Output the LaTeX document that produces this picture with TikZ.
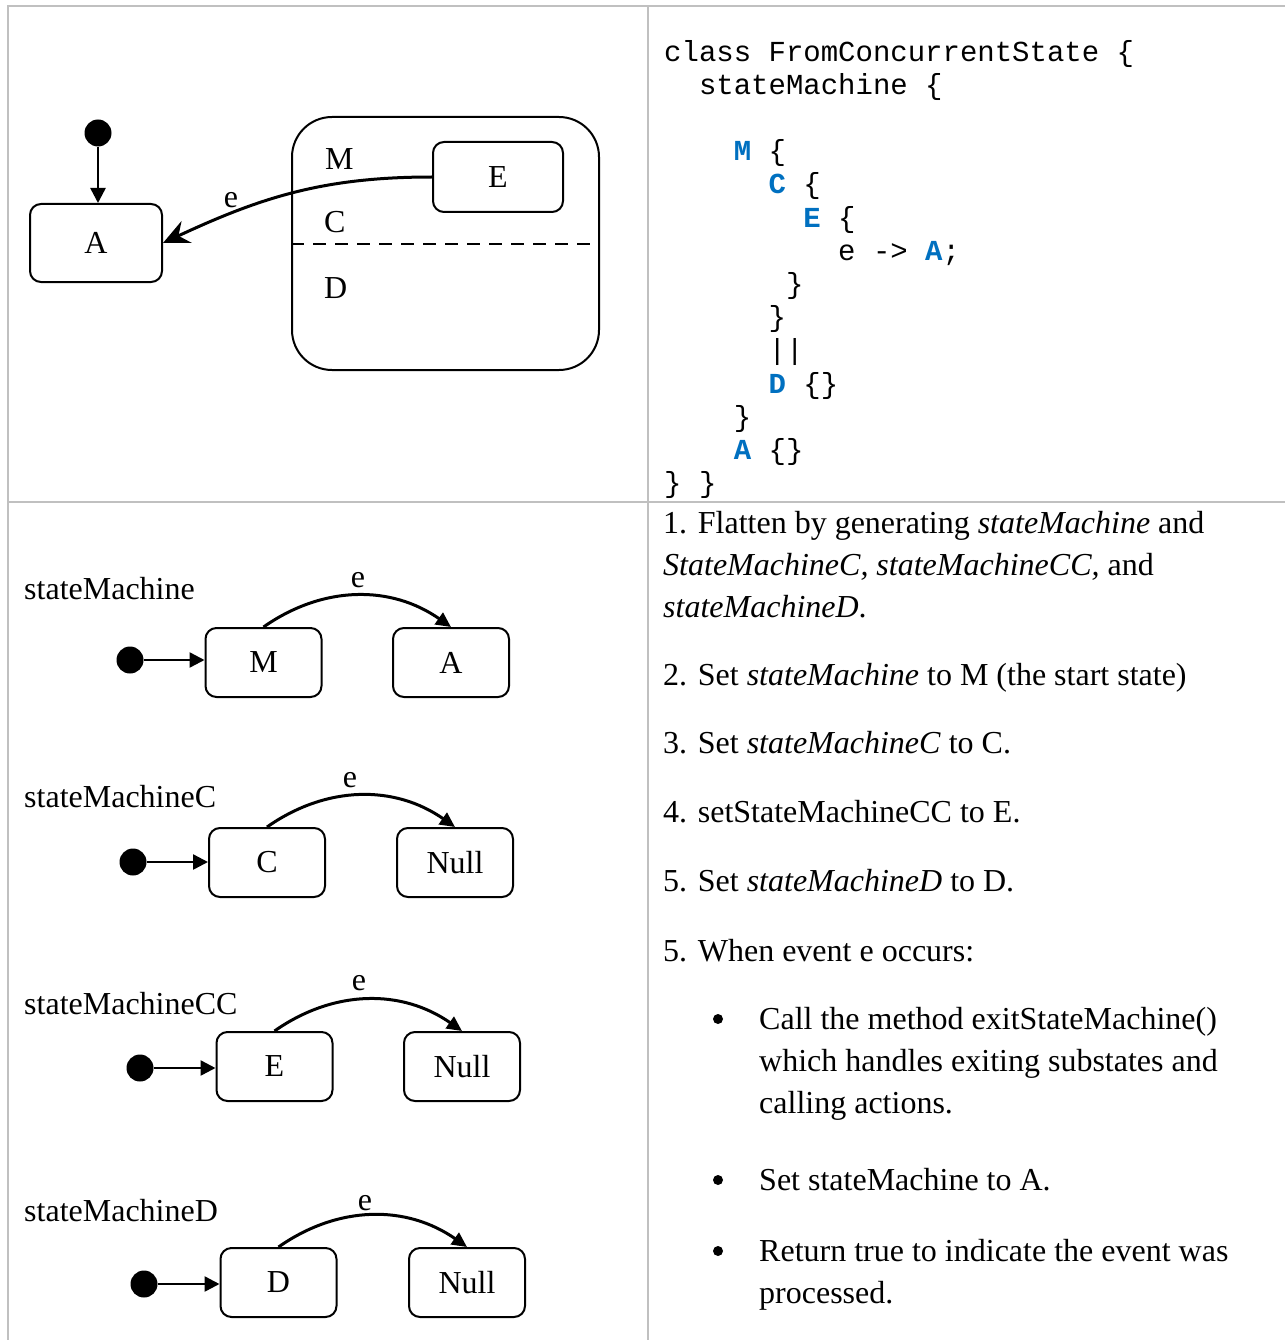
\documentclass[tikz,border=0pt]{standalone}
\usepackage{fontspec}
\setmainfont{Liberation Serif}
\setmonofont{Liberation Mono}
\usetikzlibrary{arrows.meta,positioning}

\definecolor{kwblue}{RGB}{0,112,192}
\definecolor{gridgray}{RGB}{192,192,192}
\newcommand{\kw}[1]{\textcolor{kwblue}{\textbf{#1}}}
\newcommand{\ind}[1]{\hspace*{#1}}

\begin{document}
\begin{tikzpicture}[
    x=1pt, y=-1pt,
    sbox/.style={draw, line width=2pt, rounded corners=11pt, minimum width=116pt, minimum height=69pt, font=\fontsize{32}{38}\selectfont},
    init/.style={circle, fill=black, minimum size=27pt, inner sep=0pt},
    bul/.style={circle, fill=black, minimum size=10pt, inner sep=0pt},
    arr/.style={-{Triangle[length=15pt,width=15pt]}, line width=2.5pt},
    tarr/.style={-{Triangle[length=15pt,width=14pt]}, line width=3pt},
    earr/.style={-{Stealth[length=26pt,width=24pt,inset=9pt]}, line width=3pt},
    lbl/.style={inner sep=0pt, font=\fontsize{32}{38}\selectfont},
    txt/.style={inner sep=0pt, align=left, font=\fontsize{32}{42}\selectfont},
    code/.style={inner sep=0pt, align=left, font=\fontsize{29}{33.2}\selectfont\ttfamily},
    grid/.style={draw=gridgray, line width=2pt}
]
\useasboundingbox (0,0) rectangle (1285,1340);

% table
\draw[grid] (8,1340) -- (8,6) -- (1285,6);
\draw[grid] (648,6) -- (648,1340);
\draw[grid] (8,502) -- (1285,502);

% concurrent state
\node[init] (s0) at (98,133) {};
\node[sbox, minimum width=132pt, minimum height=78pt] (sA) at (96,243) {A};
\node[draw, line width=2pt, rounded corners=40pt, minimum width=307pt, minimum height=253pt] (sM) at (445.5,243.5) {};
\node[sbox, minimum width=130pt, minimum height=70pt] (sE) at (498,177) {E};
\node[lbl, anchor=base west] (lM) at (325,170) {M};
\node[lbl, anchor=base west] (lC) at (324,233) {C};
\node[lbl, anchor=base west] (lD) at (324,298) {D};
\draw[line width=2.5pt, dash pattern=on 13pt off 9pt] (sM.west |- 0,244) -- (sM.east |- 0,244);
\draw[arr] (s0) -- (s0 |- sA.north);
\draw[earr] (sE.west) to[out=180,in=25] (sA.east);
\node[lbl, anchor=base] (eA) at (231,208) {e};

% code (base = last line)
\node[code, anchor=base west] (src) at (664,492.6) {%
class FromConcurrentState \{\\
\ind{1.2em}stateMachine \{\\
\mbox{}\\
\ind{2.4em}\kw{M} \{\\
\ind{3.6em}\kw{C} \{\\
\ind{4.8em}\kw{E} \{\\
\ind{6em}e -> \kw{A};\\
\ind{4.2em}\}\\
\ind{3.6em}\}\\
\ind{3.6em}||\\
\ind{3.6em}\kw{D} \{\}\\
\ind{2.4em}\}\\
\ind{2.4em}\kw{A} \{\}\\
\} \}};

% stateMachine
\node[lbl, anchor=base west] (n1) at (24,599) {stateMachine};
\node[init] (i1) at (130,660) {};
\node[sbox] (m1) at (263.5,662.5) {M};
\node[sbox] (a1) at (451,662.5) {A};
\draw[arr] (i1) -- (i1 -| m1.west);
\draw[tarr] (m1.north) to[out=35,in=145] (a1.north);
\node[lbl, anchor=base] (e1) at (358,587) {e};

% stateMachineC
\node[lbl, anchor=base west] (n2) at (24,807) {stateMachineC};
\node[init] (i2) at (133,862) {};
\node[sbox] (c2) at (267,862.5) {C};
\node[sbox] (z2) at (455,862.5) {Null};
\draw[arr] (i2) -- (i2 -| c2.west);
\draw[tarr] (c2.north) to[out=35,in=145] (z2.north);
\node[lbl, anchor=base] (e2) at (350,787) {e};

% stateMachineCC
\node[lbl, anchor=base west] (n3) at (24,1014) {stateMachineCC};
\node[init] (i3) at (140,1068) {};
\node[sbox] (e3b) at (274.5,1066.5) {E};
\node[sbox] (z3) at (462,1066.5) {Null};
\draw[arr] (i3) -- (i3 -| e3b.west);
\draw[tarr] (e3b.north) to[out=35,in=145] (z3.north);
\node[lbl, anchor=base] (e3) at (359,990) {e};

% stateMachineD
\node[lbl, anchor=base west] (n4) at (24,1221) {stateMachineD};
\node[init] (i4) at (144,1284) {};
\node[sbox] (d4) at (278.5,1282.5) {D};
\node[sbox] (z4) at (467,1282.5) {Null};
\draw[arr] (i4) -- (i4 -| d4.west);
\draw[tarr] (d4.north) to[out=35,in=145] (z4.north);
\node[lbl, anchor=base] (e4) at (365,1210) {e};

% steps (multi-line nodes sit on their last baseline)
\node[txt, anchor=base west] (p1) at (663,617) {1. Flatten by generating \textit{stateMachine} and\\
\textit{StateMachineC, stateMachineCC,} and\\
\textit{stateMachineD}.};
\node[txt, anchor=base west] (p2) at (663,685) {2. Set \textit{stateMachine} to M (the start state)};
\node[txt, anchor=base west] (p3) at (663,753) {3. Set \textit{stateMachineC} to C.};
\node[txt, anchor=base west] (p4) at (663,822) {4. setStateMachineCC to E.};
\node[txt, anchor=base west] (p5) at (663,891) {5. Set \textit{stateMachineD} to D.};
\node[txt, anchor=base west] (p6) at (663,961) {5. When event e occurs:};
\node[bul] (b1) at (718,1019) {};
\node[txt, anchor=base west] (q1) at (759,1113) {Call the method exitStateMachine()\\
which handles exiting substates and\\
calling actions.};
\node[bul] (b2) at (718,1180) {};
\node[txt, anchor=base west] (q2) at (759,1190) {Set stateMachine to A.};
\node[bul] (b3) at (718,1251) {};
\node[txt, anchor=base west] (q3) at (759,1303) {Return true to indicate the event was\\
processed.};
\end{tikzpicture}
\end{document}
